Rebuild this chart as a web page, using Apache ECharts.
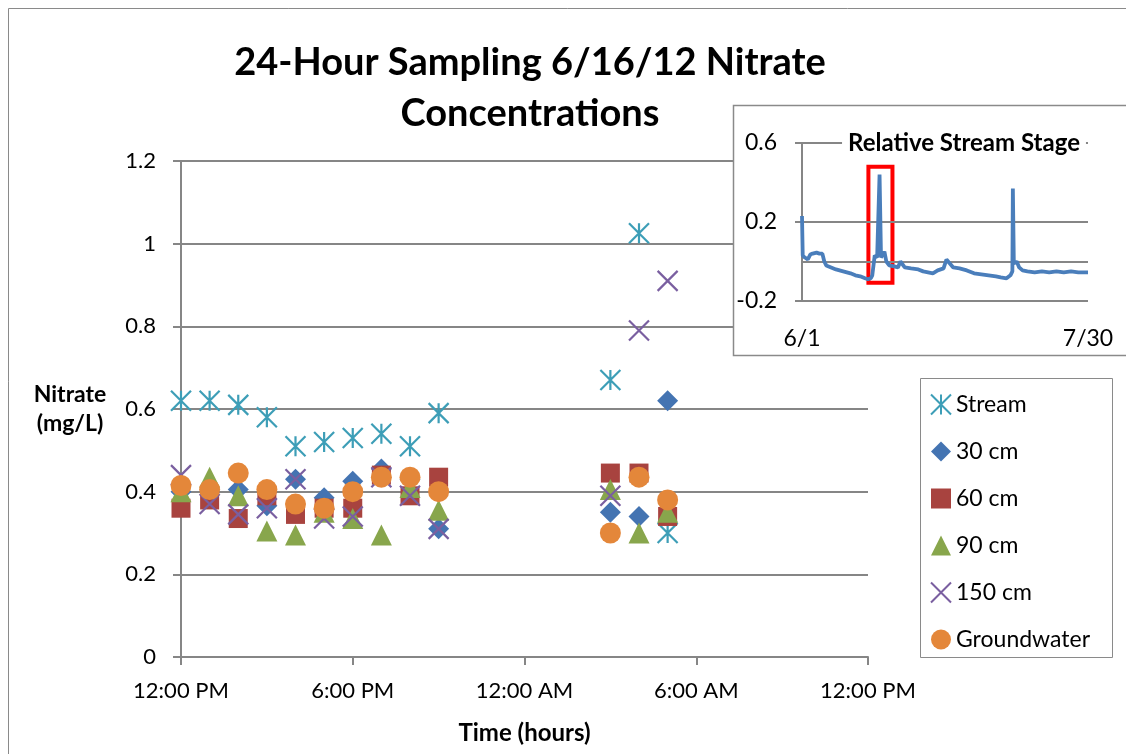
<!DOCTYPE html>
<html>
<head>
<meta charset="utf-8">
<script src="https://cdn.jsdelivr.net/npm/echarts@6/dist/echarts.min.js"></script>
<style>
  html, body { margin: 0; padding: 0; background: #fff; }
  #main { width: 1126px; height: 754px; }
</style>
</head>
<body>
<div id="main"></div>
<script>
// hours after 12:00 PM on 6/16/12
const hours = [0, 1, 2, 3, 4, 5, 6, 7, 8, 9, 15, 16, 17];
const xTickLabels = ['12:00 PM', '6:00 PM', '12:00 AM', '6:00 AM', '12:00 PM'];

const stream = [0.62, 0.62, 0.61, 0.58, 0.51, 0.52, 0.53, 0.54, 0.51, 0.59, 0.67, 1.025, 0.30];
const cm30 = [0.40, 0.40, 0.405, 0.366, 0.43, 0.385, 0.425, 0.455, 0.43, 0.31, 0.35, 0.34, 0.62];
const cm60 = [0.36, 0.38, 0.335, 0.39, 0.345, 0.36, 0.36, 0.44, 0.39, 0.435, 0.445, 0.445, 0.34];
const cm90 = [0.40, 0.435, 0.39, 0.305, 0.295, 0.35, 0.335, 0.295, 0.41, 0.355, 0.405, 0.30, 0.35];
const cm150 = [0.44, 0.37, 0.345, 0.36, 0.43, 0.335, 0.34, 0.435, 0.39, 0.31, 0.39, 0.79, 0.91];
const groundwater = [0.415, 0.405, 0.445, 0.405, 0.37, 0.36, 0.40, 0.435, 0.435, 0.40, 0.30, 0.435, 0.38];

// inset: relative stream stage, days after 6/1
const stageDays = [0, 0.15, 0.6, 1.2, 1.7, 2.2, 3.0, 3.6, 4.2, 4.6, 5.0, 6.0, 7.0, 8.5, 10.0, 11.0, 12.0,
  13.0, 13.6, 14.2, 14.5, 15.0, 15.5, 15.7, 16.0, 16.3, 16.7, 17.0, 17.4, 18.0, 19.0, 19.8, 20.3, 20.7,
  21.2, 22.5, 24.0, 25.0, 26.0, 27.0, 28.0, 29.2, 29.8, 30.5, 31.2, 32.5, 34.0, 35.5, 37.0, 38.5, 40.0,
  41.0, 42.2, 43.0, 43.4, 43.5, 43.7, 44.3, 44.8, 45.5, 46.5, 48.0, 49.5, 51.0, 52.5, 54.0, 55.5, 57.0, 59.0];
const stageValues = [0.23, 0.03, 0.02, 0.01, 0.035, 0.04, 0.045, 0.04, 0.04, 0.0, -0.02, -0.03, -0.04, -0.05, -0.06, -0.07, -0.075,
  -0.085, -0.09, -0.085, -0.07, 0.03, 0.02, 0.03, 0.44, 0.02, 0.01, 0.05, 0.0, -0.02, -0.025, -0.03, 0.0, 0.01,
  -0.03, -0.035, -0.04, -0.05, -0.055, -0.06, -0.045, -0.035, 0.01, -0.01, -0.03, -0.035, -0.045, -0.06, -0.065, -0.07, -0.075,
  -0.08, -0.085, -0.07, -0.05, 0.37, -0.01, 0.0, -0.03, -0.045, -0.05, -0.055, -0.05, -0.055, -0.05, -0.055, -0.05, -0.055, -0.055];
const insetTickLabels = ['6/1', '7/30'];
const highlightDays = [13.7, 18.66];
const highlightStage = [-0.108, 0.48];

const FONT = 'Lato';
const asterisk = 'path://M0,0L10,10M10,0L0,10M5,0L5,10';
const cross = 'path://M0,0L10,10M10,0L0,10';

function pts(vals) {
  return hours.map((h, i) => [h, vals[i]]);
}

const chart = echarts.init(document.getElementById('main'));
const option = {
  animation: false,
  textStyle: {fontFamily: FONT, color: '#000'},
  title: [
    {
      text: '24-Hour Sampling 6/16/12 Nitrate\nConcentrations',
      left: 525,
      top: 32,
      textAlign: 'center',
      textStyle: {fontFamily: FONT, fontSize: 38, fontWeight: 'bold', lineHeight: 51, color: '#000'},
    },
    {
      text: 'Relative Stream Stage',
      left: 958,
      top: 129,
      textAlign: 'center',
      backgroundColor: '#fff',
      padding: [2, 6],
      z: 10,
      textStyle: {fontFamily: FONT, fontSize: 24, fontWeight: 'bold', color: '#000'},
    },
  ],
  graphic: [
    {type: 'rect', shape: {x: 8.5, y: 8.5, width: 1200, height: 800}, style: {fill: 'none', stroke: '#8a8a8a', lineWidth: 1}, z: -10},
    {type: 'rect', shape: {x: 733.5, y: 105.5, width: 400, height: 250}, style: {fill: '#fff', stroke: '#8a8a8a', lineWidth: 1.5}, z: 1},
    {type: 'rect', shape: {x: 920.5, y: 378.5, width: 192, height: 279}, style: {fill: '#fff', stroke: '#8a8a8a', lineWidth: 1}, z: 1},
  ],
  legend: {
    data: ['Stream', '30 cm', '60 cm', '90 cm', '150 cm', 'Groundwater'],
    orient: 'vertical',
    left: 930,
    top: 393,
    padding: 0,
    itemWidth: 20,
    itemHeight: 20,
    itemGap: 24,
    z: 5,
    textStyle: {fontFamily: FONT, fontSize: 23, color: '#000'},
  },
  grid: [
    {left: 181, right: 258, top: 161, bottom: 97, outerBoundsMode: 'none'},
    {left: 802, right: 38, top: 143, bottom: 453, z: 5, outerBoundsMode: 'none'},
  ],
  xAxis: [
    {
      type: 'value', gridIndex: 0, min: 0, max: 24, interval: 6,
      axisLine: {lineStyle: {color: '#868686', width: 2}},
      axisTick: {show: true, length: 8, lineStyle: {color: '#868686', width: 2}},
      axisLabel: {fontSize: 22, color: '#000', margin: 23, formatter: v => xTickLabels[v / 6]},
      splitLine: {show: false},
      name: 'Time (hours)', nameLocation: 'middle', nameGap: 64,
      nameTextStyle: {fontFamily: FONT, fontSize: 24, fontWeight: 'bold', color: '#000'},
    },
    {
      type: 'value', gridIndex: 1, min: 0, max: 59, interval: 59,
      axisLine: {show: false}, axisTick: {show: false}, splitLine: {show: false},
      axisLabel: {fontSize: 23, color: '#000', margin: 26, formatter: v => insetTickLabels[v / 59]},
      z: 5,
    },
  ],
  yAxis: [
    {
      type: 'value', gridIndex: 0, min: 0, max: 1.2, interval: 0.2,
      axisLine: {show: true, lineStyle: {color: '#868686', width: 2}},
      axisTick: {show: true, length: 8, lineStyle: {color: '#868686', width: 2}},
      axisLabel: {fontSize: 22, color: '#000', margin: 25},
      splitLine: {lineStyle: {color: '#868686', width: 2}},
      name: 'Nitrate\n(mg/L)', nameLocation: 'middle', nameRotate: 0, nameGap: 111,
      nameTextStyle: {fontFamily: FONT, fontSize: 23, fontWeight: 'bold', color: '#000', lineHeight: 29, align: 'center'},
    },
    {
      type: 'value', gridIndex: 1, min: -0.2, max: 0.6, interval: 0.4,
      axisLine: {show: true, lineStyle: {color: '#868686', width: 2}},
      axisTick: {show: true, length: 7, lineStyle: {color: '#868686', width: 2}},
      axisLabel: {fontSize: 23, color: '#000', margin: 25},
      splitLine: {lineStyle: {color: '#868686', width: 2}},
      z: 5,
    },
  ],
  series: [
    {
      name: 'Stream', type: 'scatter', xAxisIndex: 0, yAxisIndex: 0, symbol: asterisk, symbolSize: 20,
      itemStyle: {color: 'rgba(0,0,0,0)', borderColor: '#3d9eb7', borderWidth: 2.2, opacity: 1}, data: pts(stream),
    },
    {
      name: '30 cm', type: 'scatter', xAxisIndex: 0, yAxisIndex: 0, symbol: 'diamond', symbolSize: 21,
      itemStyle: {color: '#4474b2', opacity: 1}, data: pts(cm30),
    },
    {
      name: '60 cm', type: 'scatter', xAxisIndex: 0, yAxisIndex: 0, symbol: 'rect', symbolSize: 19,
      itemStyle: {color: '#a8433f', opacity: 1}, data: pts(cm60),
    },
    {
      name: '90 cm', type: 'scatter', xAxisIndex: 0, yAxisIndex: 0, symbol: 'triangle', symbolSize: 21,
      itemStyle: {color: '#88a64c', opacity: 1}, data: pts(cm90),
    },
    {
      name: '150 cm', type: 'scatter', xAxisIndex: 0, yAxisIndex: 0, symbol: cross, symbolSize: 20,
      itemStyle: {color: 'rgba(0,0,0,0)', borderColor: '#7a5fa0', borderWidth: 2.2, opacity: 1}, data: pts(cm150),
    },
    {
      name: 'Groundwater', type: 'scatter', xAxisIndex: 0, yAxisIndex: 0, symbol: 'circle', symbolSize: 21,
      itemStyle: {color: '#e4873a', opacity: 1}, data: pts(groundwater),
    },
    {
      name: 'Stage', type: 'line', xAxisIndex: 1, yAxisIndex: 1, showSymbol: false, z: 6,
      lineStyle: {color: '#4a7ebb', width: 3.8},
      data: stageDays.map((d, i) => [d, stageValues[i]]),
      markLine: {
        silent: true, symbol: 'none', label: {show: false},
        lineStyle: {color: '#868686', width: 2, type: 'solid'},
        data: [{yAxis: 0}],
      },
      markArea: {
        silent: true,
        itemStyle: {color: 'rgba(0,0,0,0)', borderColor: '#ff0000', borderWidth: 4},
        data: [[{coord: [highlightDays[0], highlightStage[1]]}, {coord: [highlightDays[1], highlightStage[0]]}]],
      },
    },
  ],
};
chart.setOption(option);
</script>
</body>
</html>
